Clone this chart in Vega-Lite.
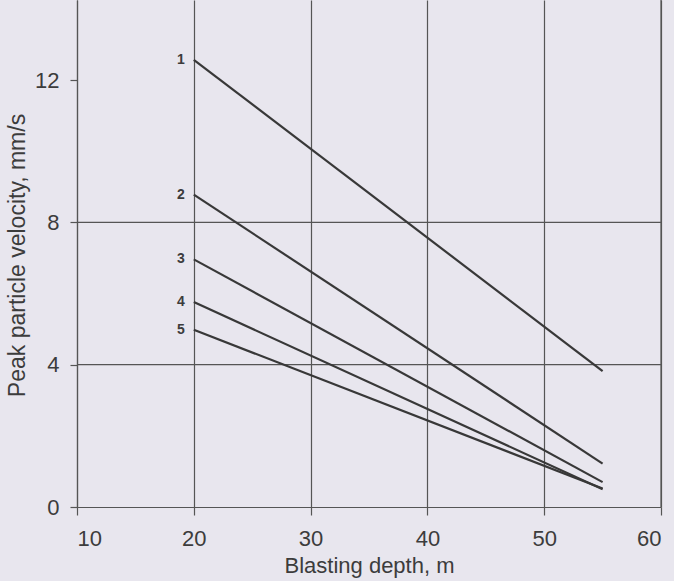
{
  "$schema": "https://vega.github.io/schema/vega-lite/v6.json",
  "width": 584,
  "height": 507,
  "autosize": {"type": "none"},
  "padding": {"left": 77, "top": 0, "right": 13, "bottom": 74},
  "background": "#e8e6ee",
  "config": {"view": {"stroke": null}, "font": "Liberation Sans"},
  "datasets": {
    "lines": [
      {"curve": "1", "depth": 20, "velocity": 12.57},
      {"curve": "1", "depth": 55, "velocity": 3.82},
      {"curve": "2", "depth": 20, "velocity": 8.78},
      {"curve": "2", "depth": 55, "velocity": 1.22},
      {"curve": "3", "depth": 20, "velocity": 6.96},
      {"curve": "3", "depth": 55, "velocity": 0.7},
      {"curve": "4", "depth": 20, "velocity": 5.76},
      {"curve": "4", "depth": 55, "velocity": 0.5},
      {"curve": "5", "depth": 20, "velocity": 4.98},
      {"curve": "5", "depth": 55, "velocity": 0.52}
    ],
    "hgrid": [{"v": 4}, {"v": 8}],
    "frame": [{"d": 60}]
  },
  "layer": [
    {
      "data": {"name": "hgrid"},
      "mark": {"type": "rule", "color": "#555555", "strokeWidth": 1.2},
      "encoding": {
        "y": {"field": "v", "type": "quantitative", "scale": {"domain": [0, 14.25], "nice": false}}
      }
    },
    {
      "data": {"name": "frame"},
      "mark": {"type": "rule", "color": "#555555", "strokeWidth": 1.2},
      "encoding": {
        "x": {"field": "d", "type": "quantitative", "scale": {"domain": [10, 60], "nice": false}}
      }
    },
    {
      "data": {"name": "lines"},
      "mark": {"type": "line", "color": "#383838", "strokeWidth": 2.2},
      "encoding": {
        "x": {
          "field": "depth", "type": "quantitative",
          "scale": {"domain": [10, 60], "nice": false},
          "axis": {
            "values": [10, 20, 30, 40, 50, 60],
            "grid": true, "gridColor": "#555555", "gridWidth": 1.2, "gridOpacity": 1,
            "domainColor": "#555555", "domainWidth": 1.2,
            "tickColor": "#555555", "tickWidth": 1.2, "tickSize": 8,
            "labelFontSize": 22, "labelColor": "#3c3c3c", "labelPadding": 13, "labelDx": -3,
            "title": "Blasting depth, m", "titleFontSize": 22, "titleFontWeight": "normal",
            "titleColor": "#3c3c3c", "titleBaseline": "alphabetic", "titleY": 65
          }
        },
        "y": {
          "field": "velocity", "type": "quantitative",
          "scale": {"domain": [0, 14.25], "nice": false},
          "axis": {
            "values": [0, 4, 8, 12],
            "grid": false,
            "domainColor": "#555555", "domainWidth": 1.2,
            "tickColor": "#555555", "tickWidth": 1.2, "tickSize": 7,
            "labelFontSize": 22, "labelColor": "#3c3c3c", "labelPadding": 11,
            "title": "Peak particle velocity, mm/s", "titleFontSize": 23, "titleFontWeight": "normal",
            "titleColor": "#3c3c3c", "titleAngle": -90, "titleAlign": "center",
            "titleBaseline": "middle", "titleX": -60, "titleY": 255
          }
        },
        "detail": {"field": "curve", "type": "nominal"}
      }
    },
    {
      "data": {"name": "lines"},
      "transform": [{"filter": "datum.depth == 20"}],
      "mark": {"type": "text", "align": "right", "baseline": "middle", "dx": -9, "fontSize": 14, "fontWeight": "bold", "color": "#3c3c3c"},
      "encoding": {
        "x": {"field": "depth", "type": "quantitative"},
        "y": {"field": "velocity", "type": "quantitative"},
        "text": {"field": "curve"}
      }
    }
  ]
}
